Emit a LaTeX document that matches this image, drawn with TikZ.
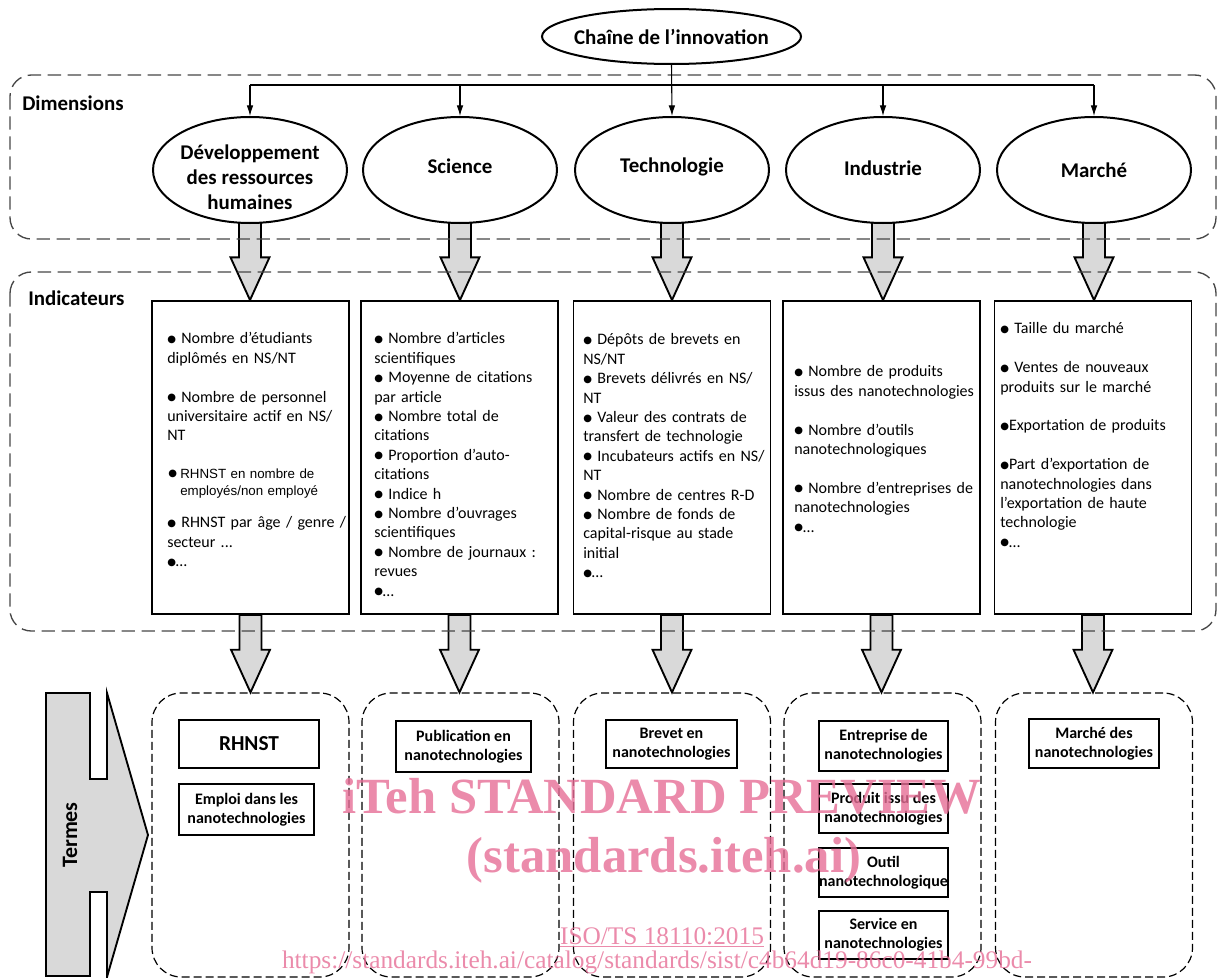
\documentclass[tikz,border=0pt]{standalone}
\usepackage{fontspec}
\setmainfont{Carlito}
\newfontfamily\arialf{Liberation Sans}
\newfontfamily\timesf{Liberation Serif}
\newfontfamily\dejavuf{DejaVu Sans}
\newcommand\bul{\raisebox{1pt}{\dejavuf\fontsize{7.5}{7.5}\selectfont ●}}
\usetikzlibrary{shapes.geometric,arrows.meta,calc}
\pgfdeclarelayer{bg}
\pgfsetlayers{bg,main}
\definecolor{blkgray}{RGB}{217,217,217}
\definecolor{dashgray}{RGB}{70,70,70}
\definecolor{wmpink}{RGB}{230,110,150}
\tikzset{
 ell/.style={ellipse, draw, line width=1.5pt, fill=white, inner sep=0pt},
 ellbig/.style={ell, minimum width=145.5pt, minimum height=79.5pt},
 elllabel/.style={font=\bfseries\fontsize{15.7}{18.75}\selectfont, align=center, inner sep=0pt},
 grouplabel/.style={font=\bfseries\fontsize{15.7}{18.75}\selectfont, anchor=west, inner sep=0pt},
 conn/.style={line width=0.8pt, -{Latex[length=8pt,width=5pt]}},
 blk/.style={draw, line width=1.4pt, fill=blkgray, line join=miter},
 bigdash/.style={draw=dashgray, line width=1pt, dash pattern=on 10pt off 5pt, rounded corners=16pt},
 indbox/.style={draw, line width=1.4pt, fill=white, minimum width=147.75pt, minimum height=234.75pt, inner sep=0pt},
 indtext/.style={anchor=north west, inner sep=0pt, text width=150pt, align=left, font=\fontsize{12}{14.55}\selectfont},
 termcont/.style={draw, line width=0.9pt, dash pattern=on 6pt off 3pt, rounded corners=22pt, minimum width=147.75pt, minimum height=213pt, inner sep=0pt},
 termbox/.style={draw, line width=1.6pt, fill=white, inner sep=0pt, align=center, font=\bfseries\fontsize{12}{14.25}\selectfont},
 wm/.style={text=wmpink, text opacity=0.8, anchor=base, inner sep=0pt},
}
\newcommand\blkarrow[2]{%
 \path[blk] let \p1=(#1), \p2=(#2) in
 (\x1-8.25pt,\y1) -- (\x1-8.25pt,\y2+32pt) -- (\x1-14.6pt,\y2+32pt) -- (\x1,\y2)
 -- (\x1+14.6pt,\y2+32pt) -- (\x1+8.25pt,\y2+32pt) -- (\x1+8.25pt,\y1) -- cycle;}
\begin{document}
\begin{tikzpicture}[x=0.75pt,y=-0.75pt]
\useasboundingbox (0,0) rectangle (1218,978);

% group frames
\draw[bigdash] (10,75) rectangle (1216,239);
\draw[bigdash] (10,272) rectangle (1216,631);
\node[grouplabel] (lbldim) at (22,103) {Dimensions};
\node[grouplabel] (lblind) at (28,298) {Indicateurs};

% top ellipse
\node[ell, minimum width=194.25pt, minimum height=41.25pt] (chain) at (671.5,36.5) {};
\node[elllabel] (chaint) at (chain) {Chaîne de l’innovation};

% dimension ellipses
\node[ellbig] (d1) at (250,170) {};
\node[ellbig] (d2) at (460,170) {};
\node[ellbig] (d3) at (672,170) {};
\node[ellbig] (d4) at (883,170) {};
\node[ellbig] (d5) at (1094,170) {};
\node[elllabel] (d1t) at (250,177) {Développement\\des ressources\\humaines};
\node[elllabel] (d2t) at (460,166) {Science};
\node[elllabel] (d3t) at (672,167) {Technologie};
\node[elllabel] (d4t) at (883,168) {Industrie};
\node[elllabel] (d5t) at (1094,170) {Marché};

% connectors
\coordinate (hl) at (250,85);
\coordinate (hr) at (1094,85);
\draw[line width=0.8pt] (hl) -- (hr);
\draw[conn] (hl) -- (d1.north);
\draw[conn] (d2.north |- hl) -- (d2.north);
\draw[conn] (chain.south) -- (d3.north);
\draw[conn] (d4.north |- hl) -- (d4.north);
\draw[conn] (hr) -- (d5.north);

% indicator boxes
\node[indbox] (i1) at (250.5,457.5) {};
\node[indbox] (i2) at (459.5,457.5) {};
\node[indbox] (i3) at (672,457.5) {};
\node[indbox] (i4) at (881.5,457.5) {};
\node[indbox] (i5) at (1093,457.5) {};

\node[indtext] (i1a) at (167,330) {\strut\bul{} Nombre d’étudiants\\diplômés en NS/NT\\[14.55pt]\bul{} Nombre de personnel\\universitaire actif en NS/\\NT};
\node[indtext, font=\arialf\fontsize{10}{12.75}\selectfont] (i1b) at (168,466) {\strut\makebox[9pt][l]{\bul}RHNST en nombre de\\\hspace*{9pt}employés/non employé};
\node[indtext] (i1c) at (167,514) {\strut\bul{} RHNST par âge / genre /\\secteur ...\\\bul…};
\node[indtext] (i2a) at (374,330) {\strut\bul{} Nombre d’articles\\scientifiques\\\bul{} Moyenne de citations\\par article\\\bul{} Nombre total de\\citations\\\bul{} Proportion d’auto-\\citations\\\bul{} Indice h\\\bul{} Nombre d’ouvrages\\scientifiques\\\bul{} Nombre de journaux :\\revues\\\bul…};
\node[indtext] (i3a) at (583,331) {\strut\bul{} Dépôts de brevets en\\NS/NT\\\bul{} Brevets délivrés en NS/\\NT\\\bul{} Valeur des contrats de\\transfert de technologie\\\bul{} Incubateurs actifs en NS/\\NT\\\bul{} Nombre de centres R-D\\\bul{} Nombre de fonds de\\capital-risque au stade\\initial\\\bul…};
\node[indtext] (i4a) at (794,363) {\strut\bul{} Nombre de produits\\issus des nanotechnologies\\[14.55pt]\bul{} Nombre d’outils\\nanotechnologiques\\[14.55pt]\bul{} Nombre d’entreprises de\\nanotechnologies\\\bul…};
\node[indtext] (i5a) at (1000,320) {\strut\bul{} Taille du marché\\[14.55pt]\bul{} Ventes de nouveaux\\produits sur le marché\\[14.55pt]\bul Exportation de produits\\[14.55pt]\bul Part d’exportation de\\nanotechnologies dans\\l’exportation de haute\\technologie\\\bul…};

% term containers
\node[termcont] (t1) at (250.5,835) {};
\node[termcont] (t2) at (460.5,835) {};
\node[termcont] (t3) at (672,835) {};
\node[termcont] (t4) at (882.5,835) {};
\node[termcont] (t5) at (1094,835) {};

% block arrows
\begin{pgfonlayer}{bg}
\blkarrow{d1.center}{i1.north}
\blkarrow{d2.center}{i2.north}
\blkarrow{d3.center}{i3.north}
\blkarrow{d4.center}{i4.north}
\blkarrow{d5.center}{i5.north}
\blkarrow{i1.south}{t1.north}
\blkarrow{i2.south}{t2.north}
\blkarrow{i3.south}{t3.north}
\blkarrow{i4.south}{t4.north}
\blkarrow{i5.south}{t5.north}
\end{pgfonlayer}

% Termes arrow
\draw[blk] (46,693) -- (90,693) -- (90,779) -- (107,779) -- (107,693) -- (148,835)
 -- (107,977) -- (107,892) -- (90,892) -- (90,976) -- (46,976) -- cycle;
\node[font=\bfseries\fontsize{16.5}{18}\selectfont, rotate=90, inner sep=0pt] (termes) at (70,835) {Termes};

% term boxes
\node[termbox, minimum width=105pt, minimum height=36pt, font=\bfseries\fontsize{16}{18}\selectfont] (c1a) at (249,744) {RHNST};
\node[termbox, minimum width=101.25pt, minimum height=38.25pt] (c1b) at (246.5,809.5) {Emploi dans les\\nanotechnologies};
\node[termbox, minimum width=101.25pt, minimum height=38.25pt] (c2a) at (463.5,746.5) {Publication en\\nanotechnologies};
\node[termbox, minimum width=98.25pt, minimum height=36pt] (c3a) at (671.5,744) {Brevet en\\nanotechnologies};
\node[termbox, minimum width=96.75pt, minimum height=37.5pt] (c4a) at (883.5,746) {Entreprise de\\nanotechnologies};
\node[termbox, minimum width=96.75pt, minimum height=36.75pt] (c4b) at (883.5,808.5) {Produit issu des\\nanotechnologies};
\node[termbox, minimum width=96.75pt, minimum height=36.75pt] (c4c) at (883.5,872.5) {Outil\\nanotechnologique};
\node[termbox, minimum width=96.75pt, minimum height=36pt] (c4d) at (883.5,935) {Service en\\nanotechnologies};
\node[termbox, minimum width=97.5pt, minimum height=36.75pt] (c5a) at (1094,743.5) {Marché des\\nanotechnologies};

% watermark
\node[wm, font=\timesf\bfseries\fontsize{38}{40}\selectfont] (wm1) at (662,813) {iTeh STANDARD PREVIEW};
\node[wm, font=\timesf\bfseries\fontsize{38}{40}\selectfont] (wm2) at (664,872) {(standards.iteh.ai)};
\node[wm, font=\timesf\fontsize{19}{21}\selectfont] (wm3) at (662,944) {\underline{ISO/TS 18110:2015}};
\node[wm, font=\timesf\fontsize{19}{21}\selectfont] (wm4) at (657,968) {https://standards.iteh.ai/catalog/standards/sist/c4b64d19-86c0-41b4-99bd-};
\end{tikzpicture}
\end{document}
